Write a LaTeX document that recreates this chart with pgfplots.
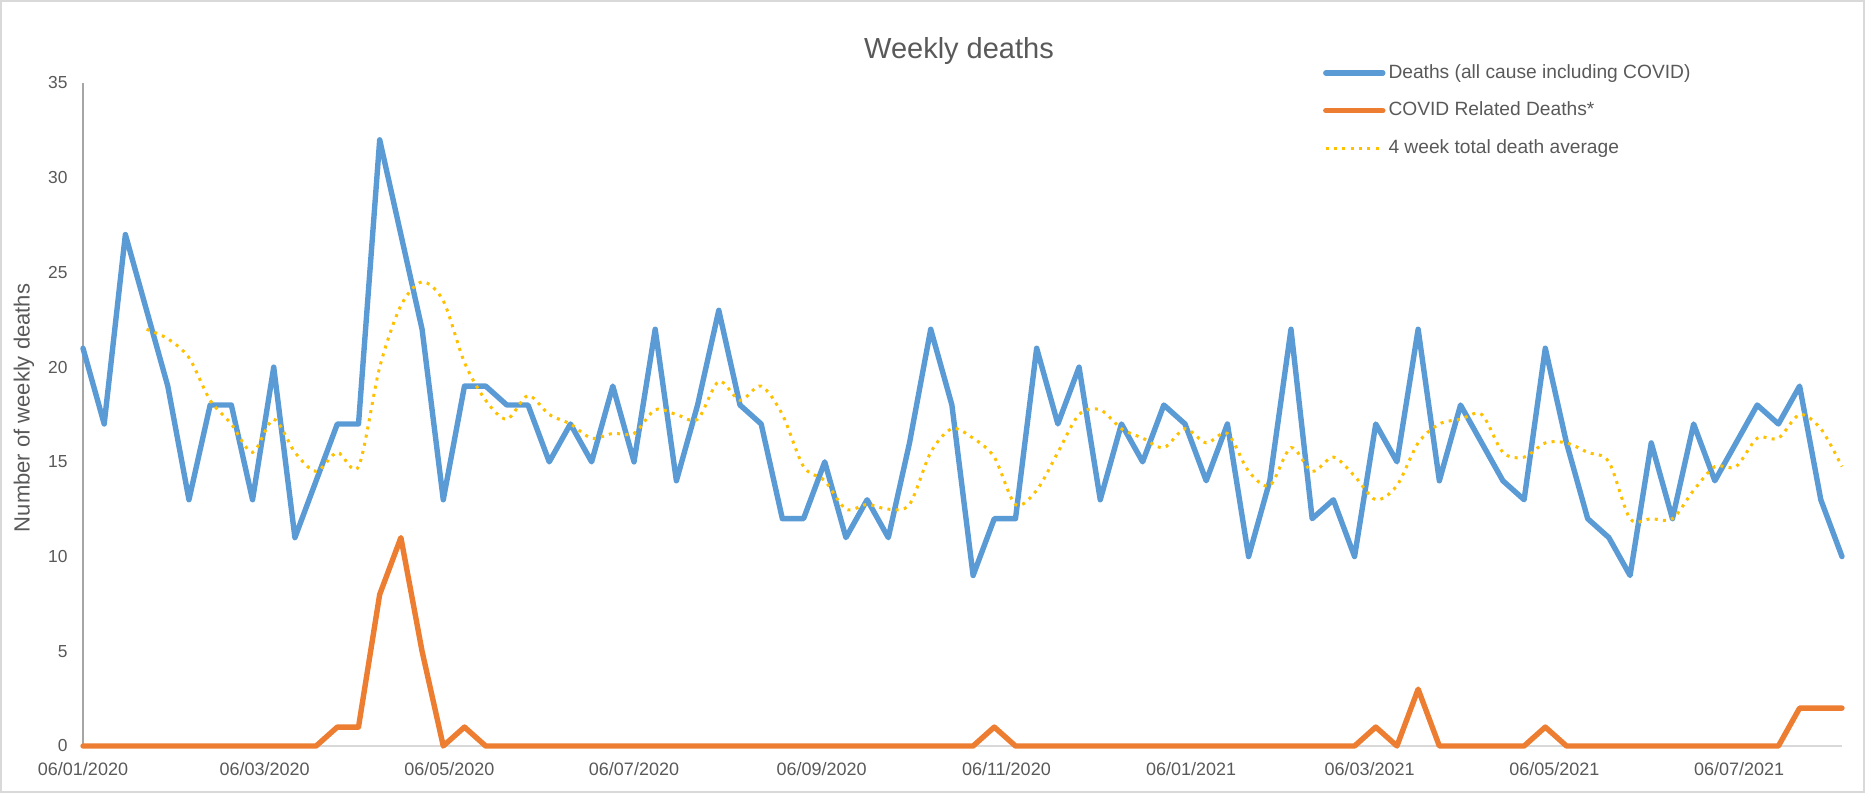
\documentclass[border=0pt]{standalone}
\usepackage{fontspec}
\setmainfont{Liberation Sans}
\usepackage{pgfplots}
\usepackage{pgfplotstable}
\pgfplotsset{compat=1.18}
\definecolor{cblue}{HTML}{5B9BD5}
\definecolor{corange}{HTML}{ED7D31}
\definecolor{cyellow}{HTML}{FFC000}
\definecolor{ctext}{HTML}{595959}
\definecolor{caxis}{HTML}{A6A6A6}
\definecolor{cframe}{HTML}{D9D9D9}

\pgfplotstableread{
day deaths covid
0 21 0
7 17 0
14 27 0
21 23 0
28 19 0
35 13 0
42 18 0
49 18 0
56 13 0
63 20 0
70 11 0
77 14 0
84 17 1
91 17 1
98 32 8
105 27 11
112 22 5
119 13 0
126 19 1
133 19 0
140 18 0
147 18 0
154 15 0
161 17 0
168 15 0
175 19 0
182 15 0
189 22 0
196 14 0
203 18 0
210 23 0
217 18 0
224 17 0
231 12 0
238 12 0
245 15 0
252 11 0
259 13 0
266 11 0
273 16 0
280 22 0
287 18 0
294 9 0
301 12 1
308 12 0
315 21 0
322 17 0
329 20 0
336 13 0
343 17 0
350 15 0
357 18 0
364 17 0
371 14 0
378 17 0
385 10 0
392 14 0
399 22 0
406 12 0
413 13 0
420 10 0
427 17 1
434 15 0
441 22 3
448 14 0
455 18 0
462 16 0
469 14 0
476 13 0
483 21 1
490 16 0
497 12 0
504 11 0
511 9 0
518 16 0
525 12 0
532 17 0
539 14 0
546 16 0
553 18 0
560 17 0
567 19 2
574 13 2
581 10 2
}\weekly

\pgfplotstableread{
day avg
21 22
28 21.5
35 20.5
42 18.25
49 17
56 15.5
63 17.25
70 15.5
77 14.5
84 15.5
91 14.75
98 20
105 23.25
112 24.5
119 23.5
126 20.25
133 18.25
140 17.25
147 18.5
154 17.5
161 17
168 16.25
175 16.5
182 16.5
189 17.75
196 17.5
203 17.25
210 19.25
217 18.25
224 19
231 17.5
238 14.75
245 14
252 12.5
259 12.75
266 12.5
273 12.75
280 15.5
287 16.75
294 16.25
301 15.25
308 12.75
315 13.5
322 15.5
329 17.5
336 17.75
343 16.75
350 16.25
357 15.75
364 16.75
371 16
378 16.5
385 14.5
392 13.75
399 15.75
406 14.5
413 15.25
420 14.25
427 13
434 13.75
441 16
448 17
455 17.25
462 17.5
469 15.5
476 15.25
483 16
490 16
497 15.5
504 15
511 12
518 12
525 12
532 13.5
539 14.75
546 14.75
553 16.25
560 16.25
567 17.5
574 16.75
581 14.75
}\avgtab

\begin{document}
\begin{tikzpicture}
\draw[cframe, line width=0.8pt] (0.4pt,0.4pt) rectangle (932.1pt,396.1pt);
\begin{axis}[
  at={(41.5pt,23.5pt)}, anchor=south west,
  scale only axis, width=879.5pt, height=331.5pt,
  xmin=0, xmax=581, ymin=0, ymax=35,
  axis lines*=left,
  axis line style={caxis, line width=0.6pt},
  x axis line style={draw=cframe},
  tick style={draw=none},
  xtick={0,60,121,182,244,305,366,425,486,547},
  xticklabels={06/01/2020,06/03/2020,06/05/2020,06/07/2020,06/09/2020,06/11/2020,06/01/2021,06/03/2021,06/05/2021,06/07/2021},
  ytick={0,5,10,15,20,25,30,35},
  /pgf/number format/assume math mode=true,
  xticklabel style={font=\fontsize{9}{10}\selectfont, text=ctext, anchor=north, inner sep=0pt, yshift=-7.8pt},
  yticklabel style={font=\fontsize{8.7}{10}\selectfont, text=ctext, anchor=east, inner sep=0pt, xshift=-7.5pt},
  legend cell align=left,
  legend image code/.code={\draw[#1] (0pt,0pt) -- (28.5pt,0pt);},
  legend style={at={(rel axis cs:0.705,1)}, anchor=north west, yshift=9.5pt,
    draw=none, fill=none, inner sep=0pt, outer sep=0pt,
    row sep=9.8pt, column sep=1.5pt,
    font=\fontsize{9.6}{11}\selectfont, text=ctext,
    nodes={inner sep=0pt, text height=7pt, text depth=2pt}},
  clip=false,
]
\addplot[cblue, line width=2.7pt, line join=round, line cap=round] table[x=day, y=deaths] {\weekly};
\addlegendentry{Deaths (all cause including COVID)}
\addplot[corange, line width=2.7pt, line join=round, line cap=round] table[x=day, y=covid] {\weekly};
\addlegendentry{COVID Related Deaths*}
\addplot[cyellow, line width=1.5pt, dash pattern=on 1.5pt off 2.65pt, smooth, tension=0.5] table[x=day, y=avg] {\avgtab};
\addlegendentry{4 week total death average}
\end{axis}
\node[text=ctext, font=\fontsize{14.5}{17}\selectfont] at (479.5pt,371pt) {Weekly deaths};
\node[text=ctext, rotate=90, font=\fontsize{11}{13}\selectfont] at (12pt,192.5pt) {Number of weekly deaths};
\pgfresetboundingbox
\useasboundingbox (0,0) rectangle (932.5pt,396.5pt);
\end{tikzpicture}
\end{document}
